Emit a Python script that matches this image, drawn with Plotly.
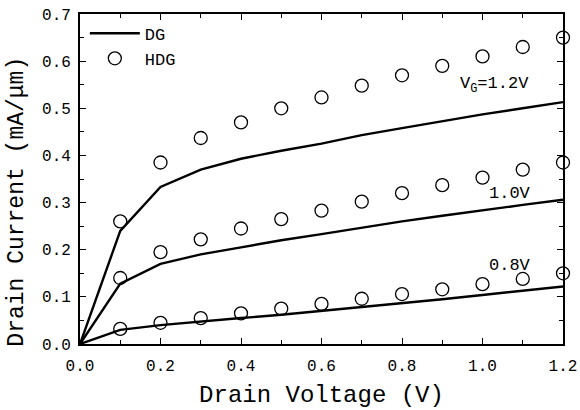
import plotly.graph_objects as go

vd_line = [0.0, 0.1, 0.2, 0.3, 0.4, 0.5, 0.6, 0.7, 0.8, 0.9, 1.0, 1.1, 1.2]
dg_12 = [0.0, 0.24, 0.333, 0.37, 0.393, 0.41, 0.425, 0.443, 0.458, 0.473, 0.487, 0.5, 0.513]
dg_10 = [0.0, 0.128, 0.17, 0.19, 0.205, 0.22, 0.233, 0.247, 0.26, 0.272, 0.284, 0.295, 0.306]
dg_08 = [0.0, 0.03, 0.04, 0.048, 0.055, 0.062, 0.07, 0.078, 0.086, 0.095, 0.104, 0.113, 0.122]

vd_pts = [0.1, 0.2, 0.3, 0.4, 0.5, 0.6, 0.7, 0.8, 0.9, 1.0, 1.1, 1.2]
hdg_12 = [0.26, 0.385, 0.437, 0.47, 0.50, 0.523, 0.548, 0.57, 0.59, 0.61, 0.63, 0.65]
hdg_10 = [0.14, 0.195, 0.222, 0.245, 0.265, 0.283, 0.302, 0.32, 0.337, 0.353, 0.37, 0.385]
hdg_08 = [0.032, 0.045, 0.055, 0.065, 0.075, 0.085, 0.096, 0.106, 0.116, 0.127, 0.138, 0.15]

labels = ["V<sub>G</sub>=1.2V", "1.0V", "0.8V"]
label_x = [1.03, 1.068, 1.068]
label_y = [0.55, 0.32, 0.166]

FONT = "Liberation Mono, Courier New, monospace"

fig = go.Figure()
for i, ys in enumerate([dg_12, dg_10, dg_08]):
    fig.add_trace(go.Scatter(x=vd_line, y=ys, mode="lines",
                             line=dict(color="black", width=2.4),
                             name="DG", showlegend=(i == 0)))
for i, ys in enumerate([hdg_12, hdg_10, hdg_08]):
    fig.add_trace(go.Scatter(x=vd_pts, y=ys, mode="markers",
                             marker=dict(symbol="circle-open", size=13,
                                         color="black", line=dict(width=1.3)),
                             name="HDG", showlegend=(i == 0), cliponaxis=False))

for t, x, y in zip(labels, label_x, label_y):
    fig.add_annotation(x=x, y=y, text=t, showarrow=False,
                       font=dict(family=FONT, size=17, color="black"))

# y-axis title placed as rotated text
fig.add_annotation(xref="paper", yref="paper", x=-0.13, y=0.432,
                   xanchor="center", yanchor="middle",
                   text="Drain Current (mA/\u03bcm)", textangle=-90, showarrow=False,
                   font=dict(family=FONT, size=23, color="black"))

axis_common = dict(showgrid=False, zeroline=False, showline=True, linecolor="black",
                   linewidth=1.8, mirror="ticks", ticks="inside", ticklen=6,
                   tickwidth=1.3, tickcolor="black", automargin=False,
                   tickfont=dict(family=FONT, size=16, color="black"))

fig.update_xaxes(range=[0, 1.2], tickmode="array",
                 tickvals=[0, 0.2, 0.4, 0.6, 0.8, 1.0, 1.2],
                 ticktext=["0.0", "0.2", "0.4", "0.6", "0.8", "1.0", "1.2"],
                 ticklabelstandoff=6,
                 minor=dict(ticks="inside", ticklen=4, dtick=0.1, tickcolor="black", tickwidth=1.2),
                 title=dict(text="Drain Voltage (V)", font=dict(family=FONT, size=24, color="black"),
                            standoff=10),
                 **axis_common)
fig.update_yaxes(range=[0, 0.7], tickmode="array",
                 tickvals=[0, 0.1, 0.2, 0.3, 0.4, 0.5, 0.6, 0.7],
                 ticktext=["0.0", "0.1", "0.2", "0.3", "0.4", "0.5", "0.6", "0.7"],
                 ticklabelstandoff=4,
                 minor=dict(ticks="inside", ticklen=4, dtick=0.05, tickcolor="black", tickwidth=1.2),
                 **axis_common)

fig.update_layout(width=580, height=410, margin=dict(l=80, r=17, t=14, b=66),
                  paper_bgcolor="white", plot_bgcolor="white",
                  legend=dict(x=0.01, y=0.995, xanchor="left", yanchor="top",
                              bgcolor="rgba(0,0,0,0)", itemwidth=50,
                              font=dict(family=FONT, size=17, color="black")),
                  showlegend=True)

fig.write_html("out.html")
